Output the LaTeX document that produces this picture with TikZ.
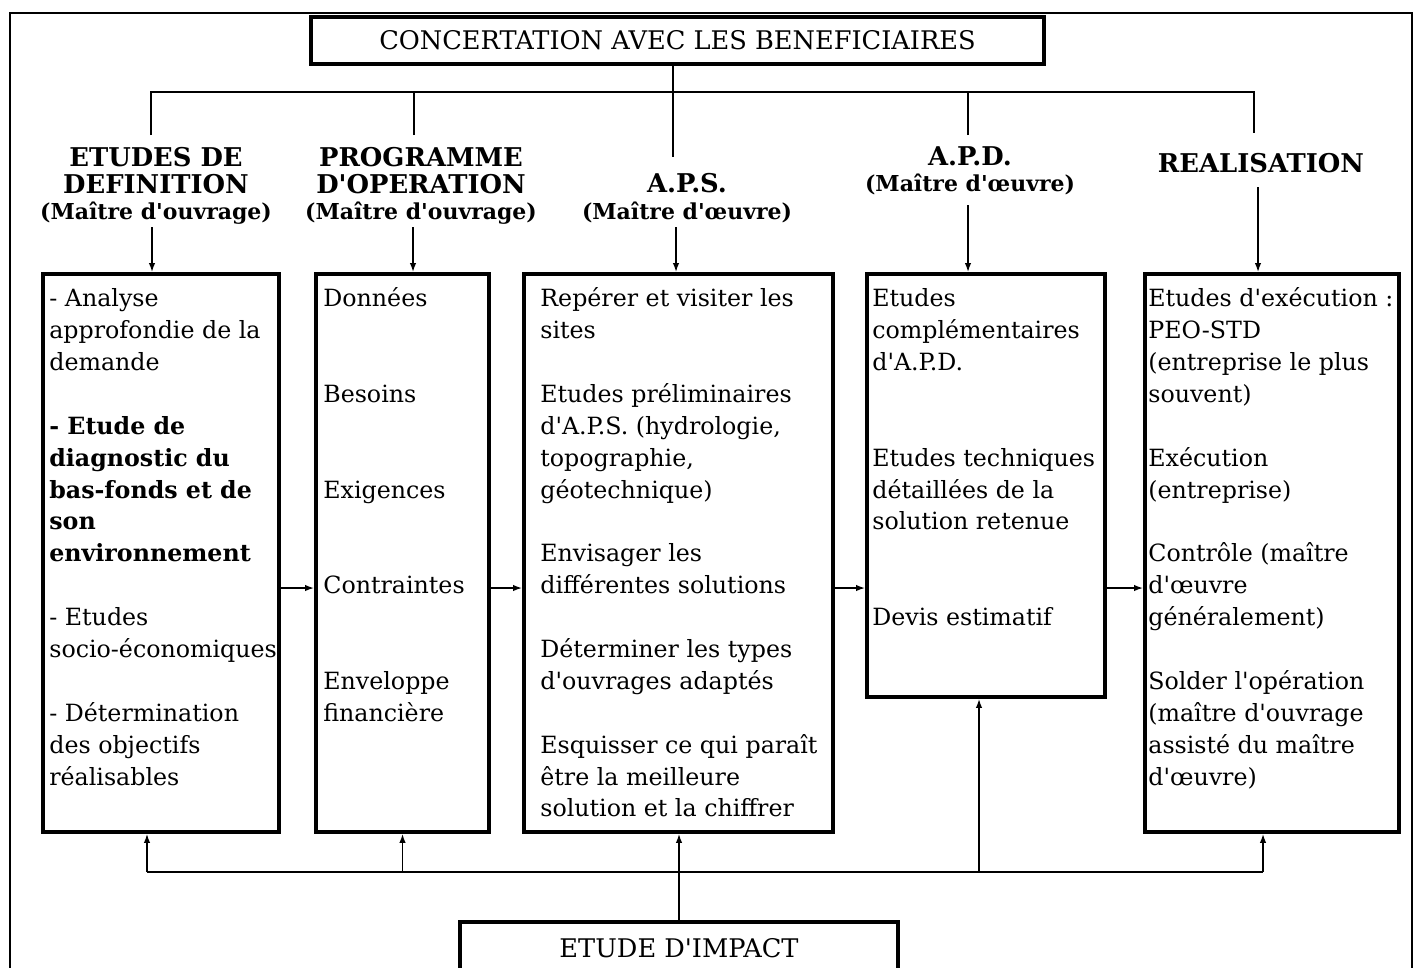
\documentclass[tikz,border=0pt]{standalone}
\usepackage{fontspec}
\setmainfont{DejaVu Serif}[Ligatures=TeXOff]
\usetikzlibrary{arrows.meta,positioning,calc}
\newcommand{\role}[1]{{\fontsize{12.5}{15}\selectfont #1}}

\begin{document}
\begin{tikzpicture}[
    x=0.02cm, y=-0.02cm,
    >={Latex[length=0.18cm,width=0.13cm]},
    frame/.style={draw, line width=1.1pt},
    bigbox/.style={draw, line width=2.3pt, anchor=north west, inner sep=0pt},
    title/.style={draw, line width=2.3pt, inner sep=0pt, font=\fontsize{14.6}{17}\selectfont},
    head/.style={align=center, inner sep=0pt, font=\bfseries\fontsize{14.7}{15}\selectfont},
    body/.style={align=left, inner sep=0pt, anchor=north west, font=\fontsize{13.5}{18.15}\selectfont},
    tree/.style={line width=1.5pt},
    link/.style={line width=1pt},
    arr/.style={->, line width=0.8pt}
]
\useasboundingbox (0,0) rectangle (1415,967);
\draw[frame] (10,13) rectangle (1412,995);
% top and bottom boxes
\node[title, minimum width=14.66cm, minimum height=0.94cm] (conc) at (677.5,40.5) {CONCERTATION AVEC LES BENEFICIAIRES};
\node[title, minimum width=8.76cm, minimum height=1.06cm] (impact) at (679,948) {ETUDE D'IMPACT};
% phase headers
\node[head] (h1) at (156,186) {ETUDES DE\\DEFINITION\\\role{(Maître d'ouvrage)}};
\node[head] (h2) at (421,186) {PROGRAMME\\D'OPERATION\\\role{(Maître d'ouvrage)}};
\node[head] (h3) at (687,198) {A.P.S.\\\role{(Maître d'œuvre)}};
\node[head] (h4) at (970,171) {A.P.D.\\\role{(Maître d'œuvre)}};
\node[head] (h5) at (1261,163) {REALISATION};
% phase boxes
\node[bigbox, minimum width=4.72cm, minimum height=11.16cm] (box1) at (41,272) {};
\node[bigbox, minimum width=3.46cm, minimum height=11.16cm] (box2) at (314,272) {};
\node[bigbox, minimum width=6.18cm, minimum height=11.16cm] (box3) at (522,272) {};
\node[bigbox, minimum width=4.76cm, minimum height=8.46cm] (box4) at (865,272) {};
\node[bigbox, minimum width=5.08cm, minimum height=11.16cm] (box5) at (1143,272) {};
\node[body] (txt1) at (49,284) {\strut- Analyse\\approfondie de la\\demande\\[\baselineskip]
  \textbf{- Etude de}\\\textbf{diagnostic du}\\\textbf{bas-fonds et de}\\\textbf{son}\\\textbf{environnement}\\[\baselineskip]
  - Etudes\\socio-économiques\\[\baselineskip]
  - Détermination\\des objectifs\\réalisables};
\node[body] (txt2) at (323,284) {\strut Données\\[2\baselineskip]Besoins\\[2\baselineskip]Exigences\\[2\baselineskip]Contraintes\\[2\baselineskip]Enveloppe\\financière};
\node[body] (txt3) at (540,284) {\strut Repérer et visiter les\\sites\\[\baselineskip]
  Etudes préliminaires\\d'A.P.S. (hydrologie,\\topographie,\\géotechnique)\\[\baselineskip]
  Envisager les\\différentes solutions\\[\baselineskip]
  Déterminer les types\\d'ouvrages adaptés\\[\baselineskip]
  Esquisser ce qui paraît\\être la meilleure\\solution et la chiffrer};
\node[body] (txt4) at (872,284) {\strut Etudes\\complémentaires\\d'A.P.D.\\[2\baselineskip]
  Etudes techniques\\détaillées de la\\solution retenue\\[2\baselineskip]
  Devis estimatif};
\node[body] (txt5) at (1148,284) {\strut Etudes d'exécution :\\PEO-STD\\(entreprise le plus\\souvent)\\[\baselineskip]
  Exécution\\(entreprise)\\[\baselineskip]
  Contrôle (maître\\d'œuvre\\généralement)\\[\baselineskip]
  Solder l'opération\\(maître d'ouvrage\\assisté du maître\\d'œuvre)};
% tree from the top box
\coordinate (bus) at (0,92);
\coordinate (d1) at (151,135);
\coordinate (d2) at (414,135);
\coordinate (d3) at (673,157);
\coordinate (d4) at (968,135);
\coordinate (d5) at (1254,133);
\draw[tree] (d1) -- (d1 |- bus) -- (d5 |- bus) -- (d5);
\draw[tree] (d2) -- (d2 |- bus);
\draw[tree] (d4) -- (d4 |- bus);
\draw[tree] (conc.south -| d3) -- (d3);
% headers to boxes
\coordinate (a1) at (152,227);
\coordinate (a2) at (413,227);
\coordinate (a3) at (676,227);
\coordinate (a4) at (968,205);
\coordinate (a5) at (1258,187);
\draw[arr] (a1) -- (a1 |- box1.north);
\draw[arr] (a2) -- (a2 |- box2.north);
\draw[arr] (a3) -- (a3 |- box3.north);
\draw[arr] (a4) -- (a4 |- box4.north);
\draw[arr] (a5) -- (a5 |- box5.north);
% box to box
\coordinate (mid) at (0,588);
\foreach \a/\b in {box1/box2, box2/box3, box3/box4, box4/box5}
  \draw[arr] (\a.east |- mid) -- (\b.west |- mid);
% impact study feedback
\coordinate (c1) at (147,872);
\coordinate (c4) at (979,872);
\coordinate (c5) at (1263,872);
\draw[link] (c1) -- (c5);
\draw[arr] (c1) -- (c1 |- box1.south);
\draw[arr] (box2.south |- c1) -- (box2.south);
\draw[arr] (c4) -- (c4 |- box4.south);
\draw[arr] (c5) -- (c5 |- box5.south);
\draw[arr] (impact.north) -- (impact.north |- box3.south);
\end{tikzpicture}
\end{document}
